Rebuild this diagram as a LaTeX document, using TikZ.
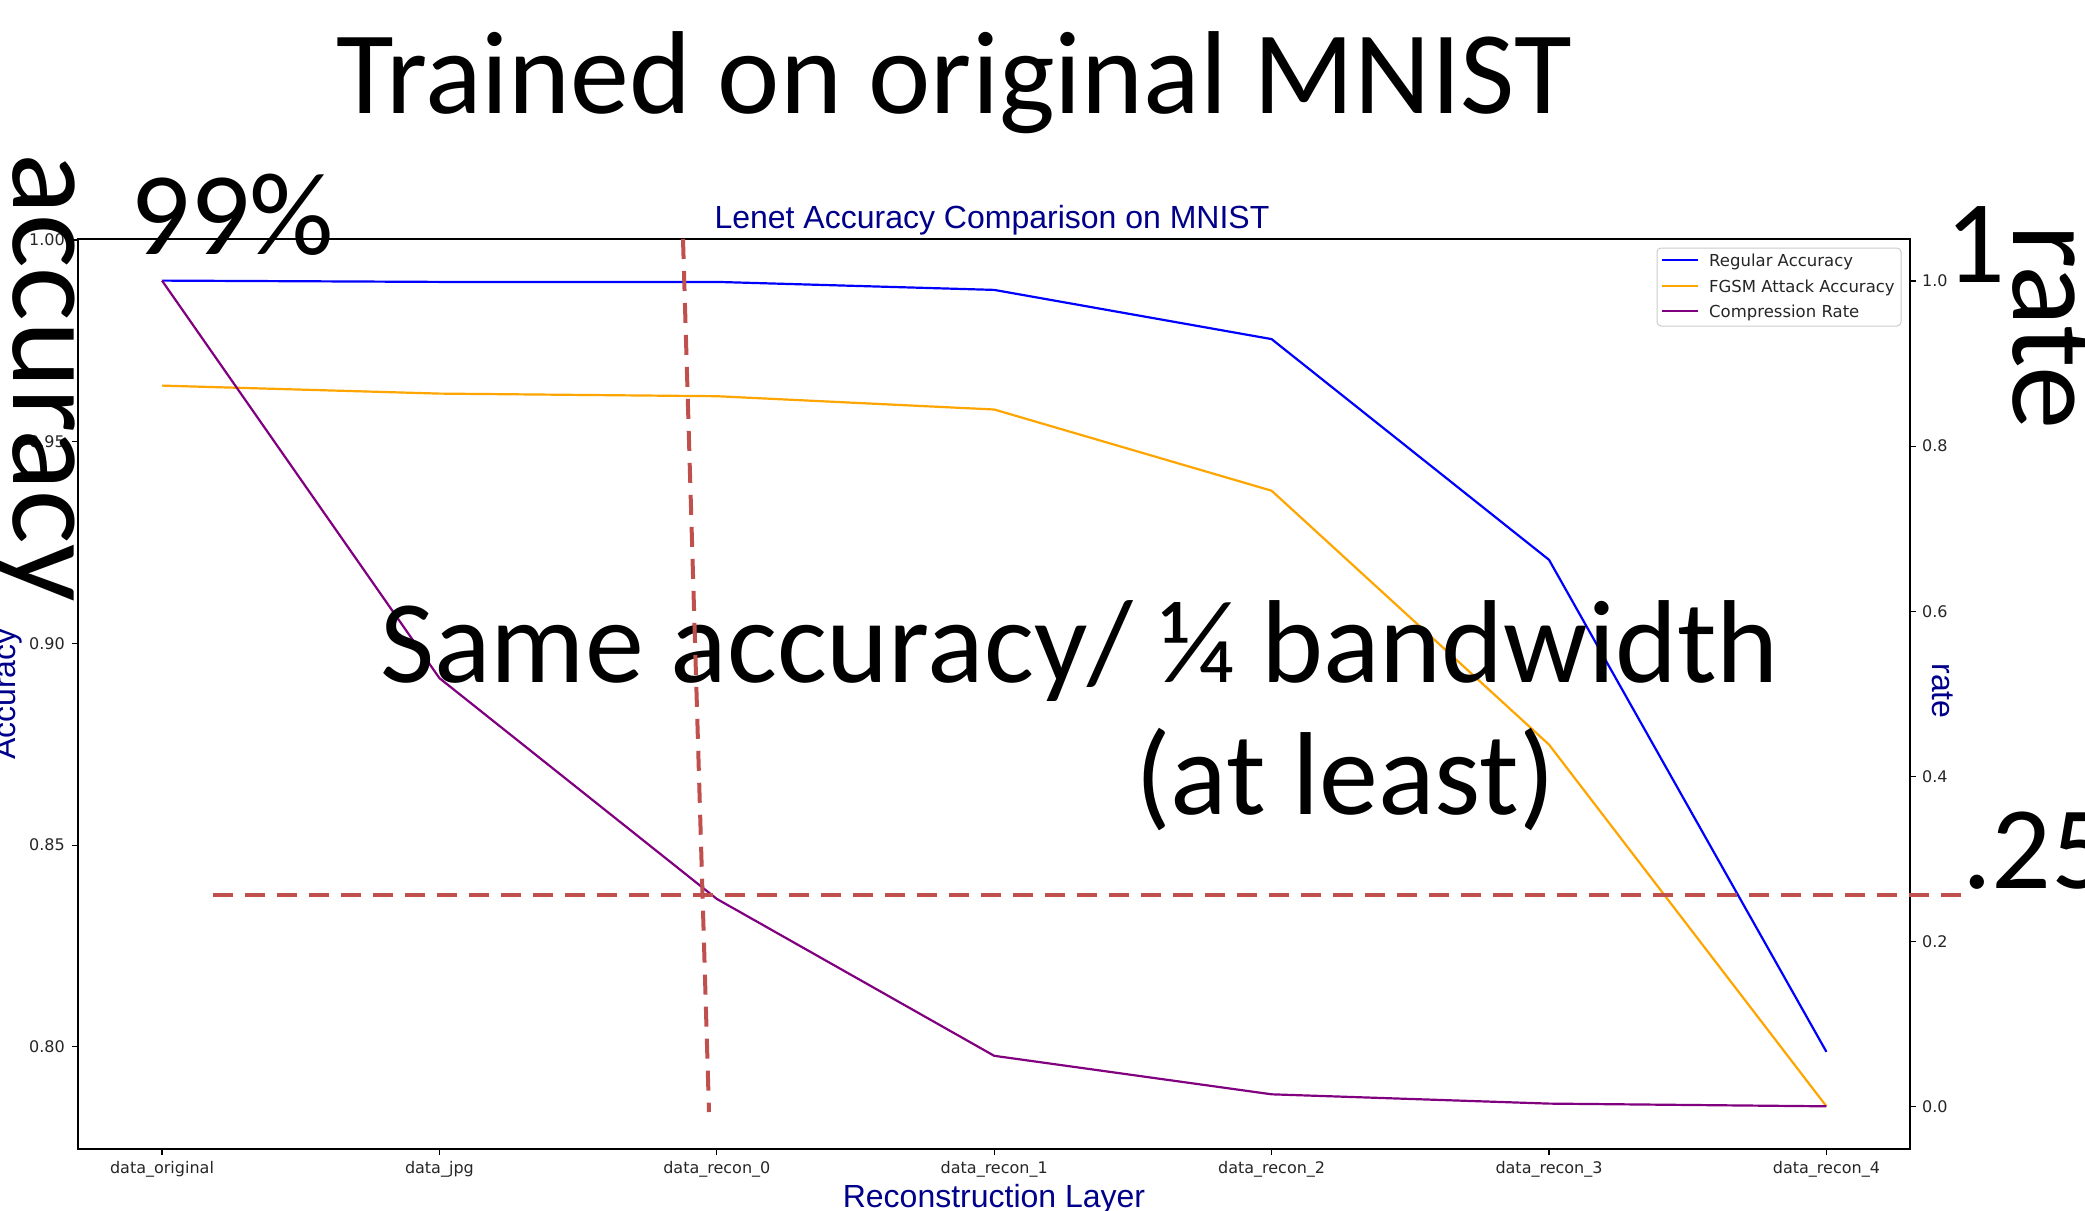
\documentclass[tikz,border=0pt]{standalone}
\usepackage{fontspec}
\setmainfont{Carlito}
\newfontfamily\dejavu{DejaVu Sans}
\newfontfamily\arialf{Liberation Sans}
\definecolor{mplblue}{HTML}{0000FF}
\definecolor{mplorange}{HTML}{FFA500}
\definecolor{mplpurple}{HTML}{800080}
\definecolor{lblblue}{HTML}{00008B}
\definecolor{dashred}{HTML}{C0504D}
\definecolor{ticktext}{HTML}{262626}
\begin{document}
\begin{tikzpicture}[x=1pt,y=-1pt,
  big/.style={font=\fontsize{118}{140}\selectfont, inner sep=0pt, text=black},
  bigv/.style={font=\fontsize{127}{150}\selectfont, inner sep=0pt, text=black, rotate=-90},
  ticklbl/.style={font=\dejavu\fontsize{16}{19}\selectfont, inner sep=0pt, text=ticktext},
  leglbl/.style={font=\dejavu\fontsize{16.5}{20}\selectfont, inner sep=0pt, text=ticktext, anchor=base west},
  axlabel/.style={font=\arialf\fontsize{32}{38}\selectfont, inner sep=0pt, text=lblblue},
  series/.style={line width=2.2pt, line join=round},
  refline/.style={draw=dashred, line width=4pt, dash pattern=on 20pt off 12pt},
  tickmark/.style={line width=1.2pt, black}
]
\useasboundingbox (0,0) rectangle (2085,1210);
\fill[white] (0,0) rectangle (2085,1210);

% axes frame
\coordinate (frameTL) at (78,239);
\coordinate (frameBR) at (1910,1149);
\draw[line width=1.6pt] (frameTL) rectangle (frameBR);

% left ticks (accuracy)
\foreach \yy/\lab [count=\i] in {240/1.00, 441.7/0.95, 643.4/0.90, 845.1/0.85, 1046.8/0.80}{
  \draw[tickmark] (78,\yy) -- (72,\yy);
  \node[ticklbl, anchor=east] (yl\i) at (65,\yy) {\lab};
}
% right ticks (rate)
\foreach \yy/\lab [count=\i] in {281/1.0, 446.1/0.8, 611.2/0.6, 776.3/0.4, 941.4/0.2, 1106.5/0.0}{
  \draw[tickmark] (1910,\yy) -- (1916,\yy);
  \node[ticklbl, anchor=west] (yr\i) at (1922,\yy) {\lab};
}
% bottom ticks
\foreach \xx/\lab [count=\i] in {162/data\_original, 439.4/data\_jpg, 716.8/data\_recon\_0, 994.2/data\_recon\_1, 1271.6/data\_recon\_2, 1549/data\_recon\_3, 1826.4/data\_recon\_4}{
  \draw[tickmark] (\xx,1149) -- (\xx,1155);
  \node[ticklbl, anchor=base] (xl\i) at (\xx,1173) {\lab};
}

% data
\coordinate (b0) at (162,280.6);
\coordinate (b1) at (439.4,281.9);
\coordinate (b2) at (716.8,281.9);
\coordinate (b3) at (994.2,289.9);
\coordinate (b4) at (1271.6,339.1);
\coordinate (b5) at (1549,559.8);
\coordinate (b6) at (1826.4,1051.8);
\coordinate (o0) at (162,385.6);
\coordinate (o1) at (439.4,393.6);
\coordinate (o2) at (716.8,396.2);
\coordinate (o3) at (994.2,409.5);
\coordinate (o4) at (1271.6,490.7);
\coordinate (o5) at (1549,744.6);
\coordinate (o6) at (1826.4,1106.3);
\coordinate (p0) at (162,280.6);
\coordinate (p1) at (439.4,678.1);
\coordinate (p2) at (716.8,898.9);
\coordinate (p3) at (994.2,1055.8);
\coordinate (p4) at (1271.6,1094.3);
\coordinate (p5) at (1549,1103.6);
\coordinate (p6) at (1826.4,1106.3);
\draw[series, mplblue] (b0) -- (b1) -- (b2) -- (b3) -- (b4) -- (b5) -- (b6);
\draw[series, mplorange] (o0) -- (o1) -- (o2) -- (o3) -- (o4) -- (o5) -- (o6);
\draw[series, mplpurple] (p0) -- (p1) -- (p2) -- (p3) -- (p4) -- (p5) -- (p6);

% legend
\draw[rounded corners=4pt, draw=black!20, line width=1pt, fill=white] (1657,248) rectangle (1901,326);
\draw[series, mplblue] (1662,260) -- (1698,260);
\draw[series, mplorange] (1662,286) -- (1698,286);
\draw[series, mplpurple] (1662,311) -- (1698,311);
\node[leglbl] (leg1) at (1709,266) {Regular Accuracy};
\node[leglbl] (leg2) at (1709,292) {FGSM Attack Accuracy};
\node[leglbl] (leg3) at (1709,317) {Compression Rate};

% plot title and labels
\node[axlabel, anchor=base] (ptitle) at (992,228) {Lenet Accuracy Comparison on MNIST};
\node[axlabel, anchor=base] (xlab) at (994,1207) {Reconstruction Layer};
\node[axlabel, anchor=base, rotate=90] (ylabL) at (16,694) {Accuracy};
\node[axlabel, anchor=base, rotate=-90] (ylabR) at (1932,691) {rate};

% slide annotations
\node[big, anchor=base west] (title) at (336,113) {Trained on original MNIST};
\node[big, anchor=base west] (p99) at (130,254) {99\%};
\node[big, anchor=base west] (one) at (1945,282) {1};
\node[big, anchor=base west] (quarter) at (1962,888) {.25};
\node[big, anchor=base west] (same) at (380,682) {Same accuracy/ ¼ bandwidth};
\node[big, anchor=base west] (least) at (1135,814) {(at least)};
\node[bigv, anchor=base west] (accv) at (13,153) {accuracy};
\node[bigv, anchor=base west] (ratev) at (2013,224) {rate};

% reference lines
\coordinate (vtop) at (683,239);
\coordinate (vbot) at (709,1112);
\coordinate (hleft) at (213,895);
\coordinate (hright) at (1964,895);
\draw[refline] (vtop) -- (vbot);
\draw[refline] (hleft) -- (hright);
\end{tikzpicture}
\end{document}
